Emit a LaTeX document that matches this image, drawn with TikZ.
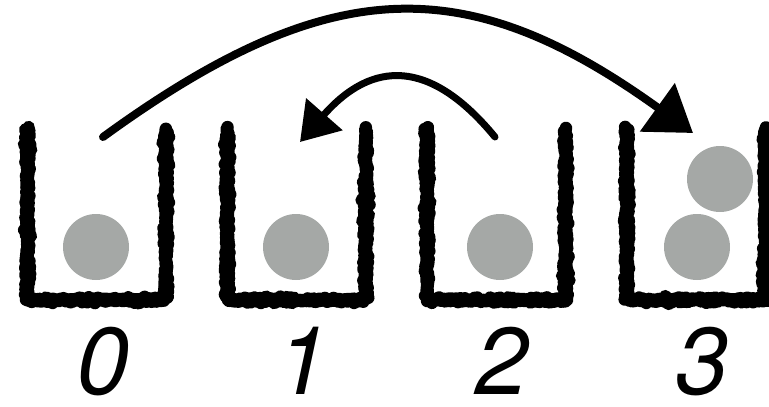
\documentclass[tikz,border=0pt]{standalone}
\usepackage{fontspec}
\setsansfont{TeX Gyre Heros}
\usetikzlibrary{arrows.meta,decorations.pathmorphing}
\definecolor{ballgray}{RGB}{165,168,166}
\tikzset{
  binwall/.style={line width=12.5pt, line join=round, line cap=round,
    rounded corners=5pt, decorate,
    decoration={random steps, segment length=2pt, amplitude=0.8pt}},
  movearrow/.style={line width=#1, line cap=round},
  movearrow/.default=8pt,
  ball/.style={circle, fill=ballgray, inner sep=0pt, minimum size=66pt},
  binlabel/.style={anchor=base, inner sep=0pt,
    font=\fontsize{95}{95}\selectfont\sffamily\itshape}
}
\begin{document}
\begin{tikzpicture}[x=1pt,y=-1pt]
  \useasboundingbox (0,0) rectangle (769,407);

  \def\w{138.5}
  \def\gap{199.8}

  % the four bins with their numbers
  \foreach \i in {0,...,3} {
    \pgfmathsetmacro{\xl}{27.5+\i*\gap}
    \draw[binwall] (\xl,130) -- (\xl,300) -- ({\xl+\w},300) -- ({\xl+\w},130);
    \node[binlabel] (lab\i) at ({\xl+\w/2+6},394) {\i};
  }

  % balls
  \node[ball] (b0) at (96,247) {};
  \node[ball] (b1) at (296,247) {};
  \node[ball] (b2) at (500,247) {};
  \node[ball] (b3) at (697,247) {};
  \node[ball] (b3top) at (720,179) {};

  % moves
  \coordinate (src0) at (103,137);
  \coordinate (dst3) at (693,133);
  \coordinate (src2) at (495,137);
  \coordinate (dst1) at (300,142);

  \draw[movearrow, -{Triangle[length=44pt,width=58pt]}]
    (src0) .. controls (331,-29) and (468,-29) .. (dst3);
  \draw[movearrow=7pt, -{Triangle[length=37pt,width=47pt]}]
    (src2) .. controls (430,58) and (372,60) .. (dst1);
\end{tikzpicture}
\end{document}
